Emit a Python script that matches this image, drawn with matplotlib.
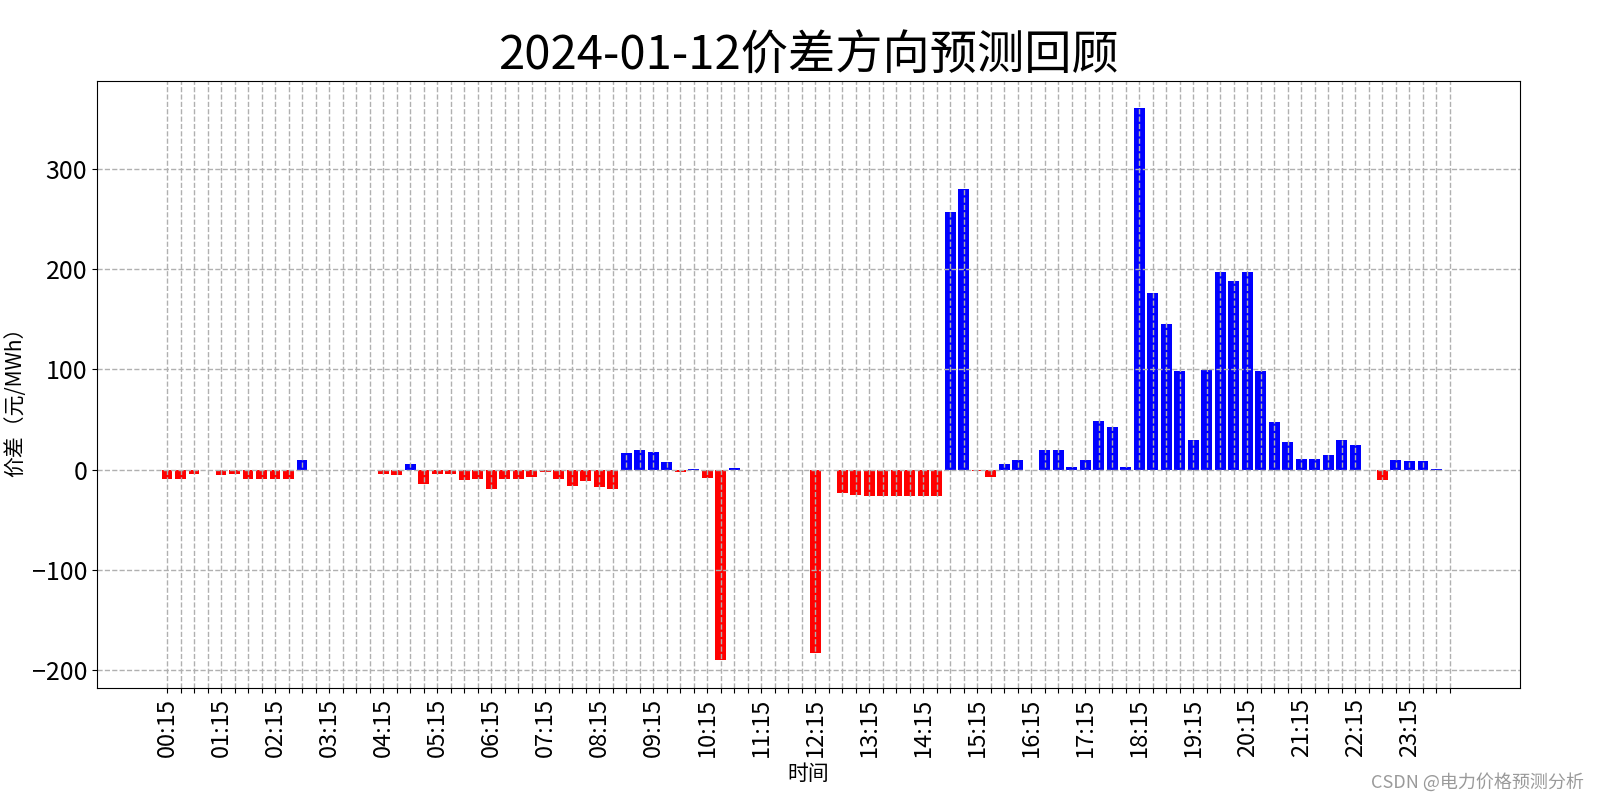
import matplotlib
matplotlib.use('Agg')
import matplotlib.pyplot as plt

plt.rcParams['font.family'] = ['Noto Sans CJK SC', 'DejaVu Sans']
plt.rcParams['axes.unicode_minus'] = True

title = '2024-01-12价差方向预测回顾'

# 96 quarter-hour slots, 00:15 ... 24:00
times = ['%02d:%02d' % (((i + 1) * 15) // 60, ((i + 1) * 15) % 60) for i in range(96)]

diff = [-9, -9, -4, 0, -5, -4, -9, -9, -9, -9,
        10, 0, 0, 0, 0, -0.5, -4, -5, 6, -14,
        -4, -4, -10, -9, -19, -9, -9, -7, -2, -9,
        -16, -11, -17, -19, 17, 20, 18, 8, -2, 1,
        -8, -190, 2, 0, 0, 0, -0.5, 0, -183, -0.5,
        -23, -25, -26, -26, -26, -26, -26, -26, 257, 280,
        -1.5, -7.5, 6, 10, 0, 20, 20, 3, 10, 49,
        43, 3, 360, 176, 145, 98, 30, 99, 197, 188,
        197, 98, 48, 28, 11, 11, 15, 30, 25, 0,
        -10, 10, 9, 9, 1, 0]

colors = ['blue' if v > 0 else 'red' for v in diff]
x = list(range(len(times)))

fig = plt.figure(figsize=(16, 8), dpi=100)
ax = fig.add_axes([0.0606, 0.14, 0.8894, 0.759])

ax.bar(x, diff, color=colors, width=0.8)

ax.set_xticks(x)
ax.set_xticklabels([t if i % 4 == 0 else '' for i, t in enumerate(times)],
                   rotation=90, fontsize=17)
ax.tick_params(axis='y', labelsize=18)
ax.grid(True, linestyle='--', color='#b0b0b0', linewidth=1)

ax.set_title(title, fontsize=34)
ax.set_xlabel('时间', fontsize=15, labelpad=4)
ax.set_ylabel('价差（元/MWh）', fontsize=15)
# keep it hugging the left edge like the original, but fully visible
ax.yaxis.set_label_coords(-0.05, 0.48)

fig.text(0.99, 0.022, 'CSDN @电力价格预测分析', ha='right', va='center',
         fontsize=13, color='#9a9a9a')

plt.savefig('out.png', dpi=100)
